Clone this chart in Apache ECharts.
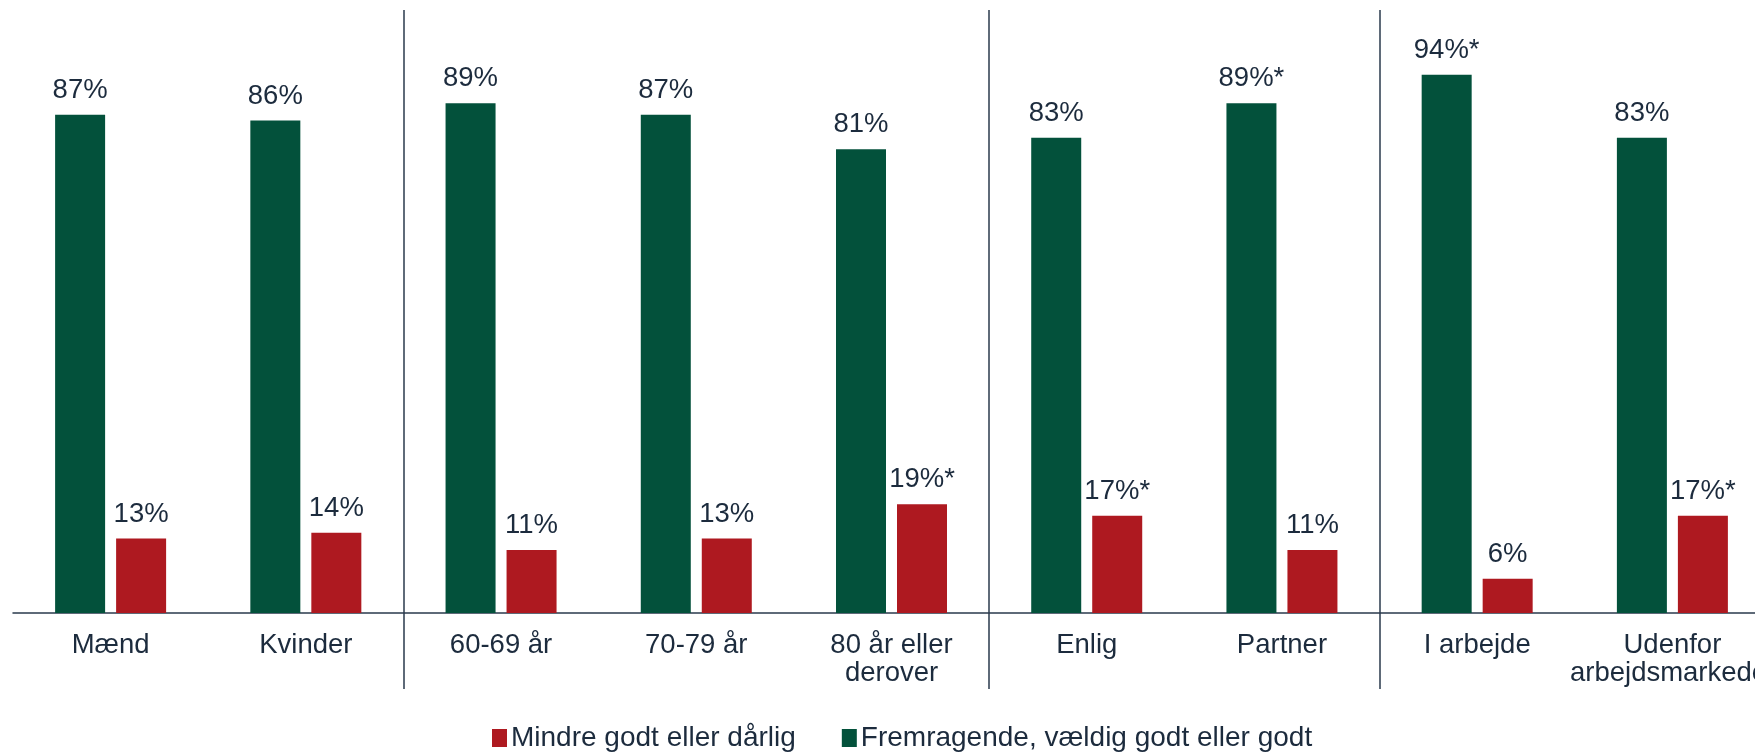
<!DOCTYPE html>
<html>
<head>
<meta charset="utf-8">
<script src="https://cdn.jsdelivr.net/npm/echarts@6/dist/echarts.min.js"></script>
<style>
  html, body { margin: 0; padding: 0; background: #fff; }
  #main { width: 1755px; height: 752px; }
</style>
</head>
<body>
<div id="main"></div>
<script>
// data
const categories = ['Mænd', 'Kvinder', '60-69 år', '70-79 år', '80 år eller\nderover', 'Enlig', 'Partner', 'I arbejde', 'Udenfor\narbejdsmarkedet']
const goodValues = [87, 86, 89, 87, 81, 83, 89, 94, 83]
const poorValues = [13, 14, 11, 13, 19, 17, 11, 6, 17]
// significant differences get a star
const goodStars = [0, 0, 0, 0, 0, 0, 1, 1, 0]
const poorStars = [0, 0, 0, 0, 1, 1, 0, 0, 1]
// group boundaries (index of first category in a new group)
const groupStarts = [2, 5, 7]

const textColor = '#1c2b3d'
const lineColor = '#2a3a4c'
const fontFamily = 'Liberation Sans, Arial, sans-serif'

const myChart = echarts.init(document.getElementById('main'))

const labelStyle = (stars) => ({
  show: true,
  position: 'top',
  distance: 11,
  color: textColor,
  fontSize: 27.5,
  lineHeight: 27,
  fontFamily: fontFamily,
  formatter: p => p.value + '%' + (stars[p.dataIndex] ? '*' : '')
})

const option = {
  animation: false,
  legend: {
    data: ['Mindre godt eller dårlig', 'Fremragende, vældig godt eller godt'],
    left: 487,
    top: 719,
    itemWidth: 15,
    itemHeight: 18,
    itemGap: 46,
    icon: 'rect',
    textStyle: {
      color: textColor,
      fontSize: 28,
      fontFamily: fontFamily,
      padding: [0, 0, 0, -1]
    }
  },
  grid: {
    left: 13,
    top: 10,
    width: 1757,
    bottom: 139,
    containLabel: false,
    outerBoundsMode: 'none'
  },
  xAxis: {
    type: 'category',
    data: categories,
    axisLine: {
      lineStyle: { color: lineColor, width: 1.5 }
    },
    axisTick: {
      show: true,
      interval: (index) => groupStarts.indexOf(index) >= 0,
      length: 76,
      lineStyle: { color: lineColor, width: 1.5 }
    },
    splitLine: {
      show: true,
      interval: (index) => groupStarts.indexOf(index) >= 0,
      lineStyle: { color: lineColor, width: 1.5 }
    },
    axisLabel: {
      interval: 0,
      margin: 18,
      color: textColor,
      fontSize: 27.5,
      lineHeight: 28,
      fontFamily: fontFamily
    }
  },
  yAxis: {
    type: 'value',
    min: 0,
    max: 105.3,
    show: false,
    splitLine: { show: false }
  },
  series: [
    {
      name: 'Fremragende, vældig godt eller godt',
      type: 'bar',
      data: goodValues,
      barWidth: 50,
      barGap: '22%',
      itemStyle: { color: '#03513b' },
      label: labelStyle(goodStars)
    },
    {
      name: 'Mindre godt eller dårlig',
      type: 'bar',
      data: poorValues,
      barWidth: 50,
      itemStyle: { color: '#ae1920' },
      label: labelStyle(poorStars)
    }
  ]
}

myChart.setOption(option)
</script>
</body>
</html>
